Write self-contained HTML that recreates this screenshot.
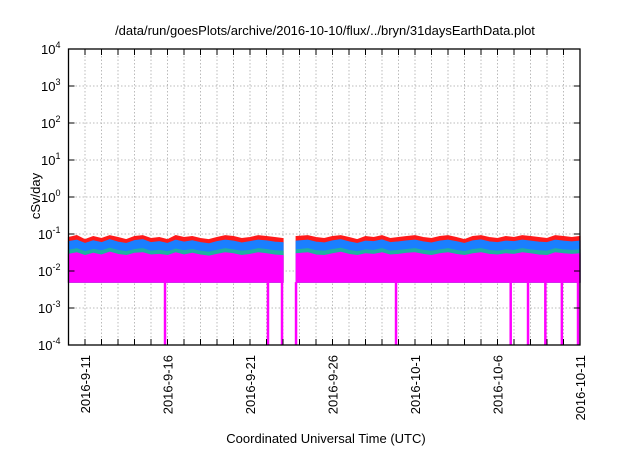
<!DOCTYPE html>
<html><head><meta charset="utf-8"><style>
body{margin:0;background:#fff;}
svg text{font-family:"Liberation Sans",sans-serif;fill:#000;}
</style></head><body>
<svg id="chart" width="640" height="448" viewBox="0 0 640 448" xmlns="http://www.w3.org/2000/svg">
<rect width="640" height="448" fill="#fff"/>
<text x="325" y="35" font-size="13" text-anchor="middle">/data/run/goesPlots/archive/2016-10-10/flux/../bryn/31daysEarthData.plot</text>
<g id="grid"></g>
<g id="series"></g>
<g id="axes"></g>
<text transform="translate(40,196) rotate(-90)" font-size="13" text-anchor="middle">cSv/day</text>
<text x="326" y="443" font-size="13" text-anchor="middle">Coordinated Universal Time (UTC)</text>
</svg>
<script>
const yExps=[-4,-3,-2,-1,0,1,2,3,4];
const dateTicks=["2016-9-11","2016-9-16","2016-9-21","2016-9-26","2016-10-1","2016-10-6","2016-10-11"];
const dateTickDays=[1,6,11,16,21,26,31];
const red=[0.08,0.09,0.07,0.085,0.075,0.09,0.08,0.07,0.085,0.09,0.075,0.08,0.07,0.09,0.08,0.085,0.075,0.07,0.08,0.09,0.085,0.075,0.08,0.09,0.085,0.08,0.075,null,0.085,0.09,0.08,0.075,0.085,0.09,0.08,0.07,0.085,0.08,0.09,0.075,0.08,0.085,0.09,0.08,0.075,0.085,0.09,0.08,0.07,0.085,0.09,0.08,0.075,0.085,0.08,0.09,0.085,0.08,0.075,0.09,0.085,0.08,0.085];
const blue=[0.062,0.068,0.055,0.065,0.058,0.07,0.06,0.055,0.066,0.07,0.058,0.062,0.055,0.068,0.06,0.065,0.058,0.054,0.062,0.068,0.064,0.057,0.062,0.068,0.065,0.06,0.058,null,0.064,0.068,0.06,0.057,0.065,0.07,0.061,0.055,0.064,0.062,0.069,0.058,0.061,0.065,0.068,0.061,0.057,0.064,0.068,0.062,0.055,0.065,0.069,0.061,0.058,0.064,0.062,0.068,0.064,0.06,0.058,0.068,0.064,0.061,0.064];
const green=[0.036,0.04,0.033,0.038,0.035,0.041,0.036,0.033,0.038,0.04,0.034,0.036,0.033,0.039,0.035,0.038,0.034,0.032,0.036,0.04,0.037,0.034,0.036,0.04,0.038,0.035,0.034,null,0.037,0.04,0.035,0.034,0.038,0.041,0.036,0.033,0.037,0.036,0.04,0.034,0.036,0.038,0.04,0.036,0.034,0.037,0.04,0.036,0.033,0.038,0.04,0.036,0.034,0.037,0.036,0.04,0.037,0.035,0.034,0.04,0.037,0.036,0.037];
const magTop=[0.028,0.031,0.026,0.03,0.027,0.032,0.028,0.026,0.03,0.031,0.027,0.028,0.026,0.031,0.027,0.03,0.027,0.025,0.028,0.031,0.029,0.026,0.028,0.031,0.029,0.027,0.026,null,0.029,0.031,0.027,0.026,0.029,0.032,0.028,0.026,0.029,0.028,0.031,0.027,0.028,0.03,0.031,0.028,0.026,0.029,0.031,0.028,0.026,0.029,0.031,0.028,0.027,0.029,0.028,0.031,0.029,0.027,0.026,0.031,0.029,0.028,0.029];
const magBottom=0.005;
const dropDays=[5.85,12.09,12.94,13.79,19.85,26.8,27.85,28.9,29.9,30.88];
const step=0.5;
const L=68.5,R=580,T=49,B=345,D0=0,D1=31;
const x=d=>L+(d-D0)/(D1-D0)*(R-L);
const y=v=>B-(Math.log10(v)+4)/8*(B-T);
const NS="http://www.w3.org/2000/svg";
function mk(tag,attrs,parent){const e=document.createElementNS(NS,tag);for(const k in attrs)e.setAttribute(k,attrs[k]);parent.appendChild(e);return e;}
const grid=document.getElementById('grid'),ser=document.getElementById('series'),axes=document.getElementById('axes');
for(let d=D0+1;d<D1;d++){const g=mk('line',{x1:x(d),x2:x(d),y1:T,y2:B,stroke:'#bbb','stroke-width':1,'stroke-dasharray':'1.5,2'},grid);

}
yExps.forEach((e,i)=>{const yy=y(Math.pow(10,e));
if(i>0&&i<yExps.length-1){const g=mk('line',{x1:L,x2:R,y1:yy,y2:yy,stroke:'#bbb','stroke-width':1,'stroke-dasharray':'1.5,2'},grid);

}
const t=mk('line',{x1:L,x2:L+6,y1:yy,y2:yy,stroke:'#000'},axes);


const t2=mk('line',{x1:R-6,x2:R,y1:yy,y2:yy,stroke:'#000'},axes);


const tx=mk('text',{x:L-8,y:yy+5,'font-size':13,'text-anchor':'end'},axes);


tx.textContent='10';
const sp=mk('tspan',{dy:-6,'font-size':9},tx);sp.textContent=String(e);});
for(let d=D0+1;d<D1;d++){const t=mk('line',{x1:x(d),x2:x(d),y1:B,y2:B-6,stroke:'#000'},axes);


const t2=mk('line',{x1:x(d),x2:x(d),y1:T,y2:T+6,stroke:'#000'},axes);

}
dateTicks.forEach((lab,i)=>{const xx=x(dateTickDays[i]);
const t=mk('text',{transform:`translate(${xx+5},${B+10}) rotate(-90)`,'font-size':13,'text-anchor':'end'},axes);


t.textContent=lab;});
const fr=mk('rect',{x:L,y:T,width:R-L,height:B-T,fill:'none',stroke:'#000','stroke-width':1.3},axes);


function segments(arr){const segs=[];let cur=[];arr.forEach((v,i)=>{if(v==null){if(cur.length)segs.push(cur);cur=[];}else cur.push([i===28?13.8:i*step,v]);});if(cur.length)segs.push(cur);return segs;}
function area(arr,color,name){segments(arr).forEach(s=>{let pts=s.map(p=>`${x(p[0])},${y(p[1])}`);
const base=s.slice().reverse().map(p=>`${x(p[0])},${y(magBottom)}`);
const p=mk('polygon',{points:pts.concat(base).join(' '),fill:color,stroke:color,'stroke-width':1.2},ser);

});}
area(red,'#ff1a1a','series-red');
area(blue,'#1a7fff','series-blue');
area(green,'#20b0a0','series-green');
area(magTop,'#ff00ff','series-magenta');
dropDays.forEach(d=>{const l=mk('line',{x1:x(d),x2:x(d),y1:y(magBottom),y2:B,stroke:'#ff00ff','stroke-width':2.5},ser);

});
</script>
</body></html>
